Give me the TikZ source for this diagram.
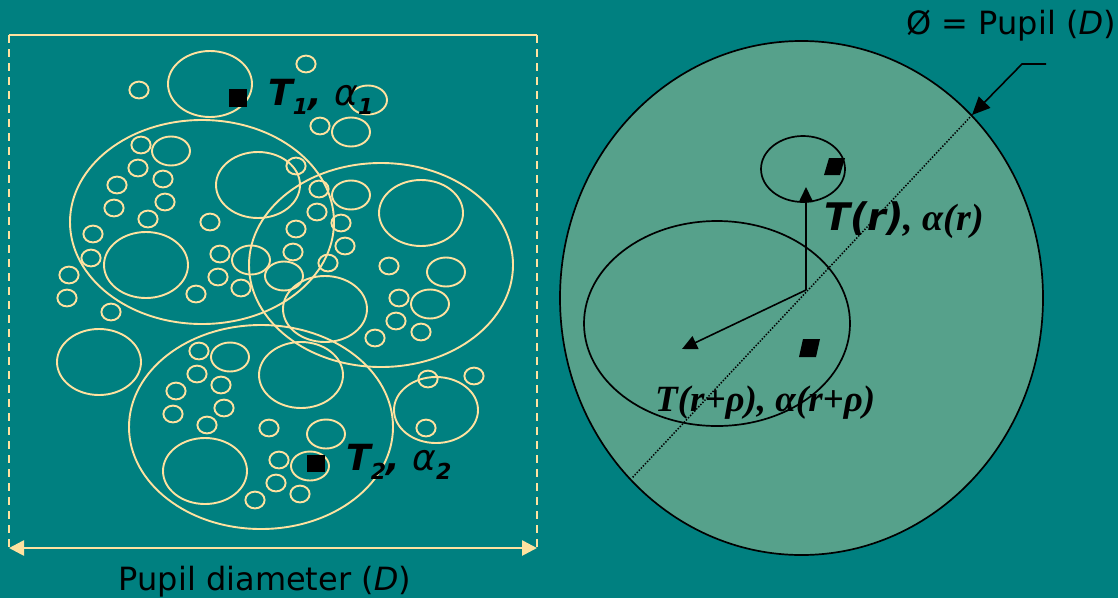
\documentclass[tikz,border=0pt]{standalone}
\usepackage{fontspec}
\setmainfont{DejaVu Sans}
\newfontfamily\timesfont{Liberation Serif}
\usetikzlibrary{arrows.meta}

\definecolor{tealbg}{RGB}{0,128,128}
\definecolor{pupilfill}{RGB}{86,161,139}
\definecolor{cream}{RGB}{255,226,160}

% lowered index for the T and alpha labels
\newcommand{\lsub}[1]{\raisebox{-9pt}{\fontsize{22}{22}\selectfont\bfseries #1}}

\begin{document}
\begin{tikzpicture}[x=1pt, y=-1pt,
            cell/.style={draw=cream, line width=1.9pt},
            rim/.style={draw=black, line width=1.7pt},
            blob/.style={fill=black},
            tip/.style={-{Triangle[length=15pt, width=14pt]}, line width=1.6pt},
            lab/.style={inner sep=0pt, text=black}
        ]
            \useasboundingbox[fill=tealbg] (0,0) rectangle (1118,598);

            % left: pupil with turbulent cells
            \coordinate (dl) at (9,548);
            \coordinate (dr) at (537,548);
            \draw[cream, line width=1.8pt] (9,35) -- (537,35);
            \draw[cream, line width=1.8pt, dash pattern=on 8pt off 6pt] (9,35) -- (9,552);
            \draw[cream, line width=1.8pt, dash pattern=on 8pt off 6pt] (537,35) -- (537,552);
            \draw[cream, line width=2.6pt, {Triangle[length=15pt, width=15pt]}-{Triangle[length=15pt, width=15pt]}] (dl) -- (dr);

            \foreach \x/\y in {202/222, 381/265, 261/427}
                \draw[cell] (\x,\y) ellipse [x radius=132, y radius=102];
            \foreach \x/\y in {210/84, 258/185, 146/265, 421/213, 325/309, 301/375, 205/471, 99/362, 436/410}
                \draw[cell] (\x,\y) ellipse [x radius=42, y radius=33];
            \foreach \x/\y in {368/100, 351/132, 171/151, 351/195, 251/260, 284/276, 446/272, 430/304, 230/357, 326/434, 310/466}
                \draw[cell] (\x,\y) ellipse [x radius=19, y radius=14.5];
            \foreach \x/\y in {139/90, 306/64, 320/126, 141/145, 138/168, 163/179, 117/185, 165/202, 114/208,
                               148/219, 210/222, 296/166, 319/189, 317/212, 341/223, 296/229, 345/246, 293/252,
                               328/263, 220/254, 218/277, 241/288, 196/294, 93/234, 91/258, 69/275, 67/298,
                               111/312, 389/266, 399/298, 396/321, 375/338, 421/332, 199/351, 197/374, 176/391,
                               221/385, 173/414, 224/408, 207/425, 269/428, 279/460, 276/483, 255/500, 300/494,
                               428/379, 474/376, 426/428}
                \draw[cell] (\x,\y) ellipse [x radius=9.6, y radius=8.4];

            \fill[blob] (229,89) rectangle (247,107);
            \fill[blob] (307,455) rectangle (325,472);
            \node[lab, anchor=base west, font=\fontsize{36}{40}\selectfont\bfseries\itshape] (t1lab) at (268,105)
                {T\lsub{1}, {\mdseries α}\lsub{1}};
            \node[lab, anchor=base west, font=\fontsize{36}{40}\selectfont\bfseries\itshape] (t2lab) at (346,470)
                {T\lsub{2}, {\mdseries α}\lsub{2}};
            \node[lab, anchor=base, font=\fontsize{32}{36}\selectfont] (diamlab) at (265,590)
                {Pupil diameter (\textit{D})};

            % right: one pupil, two points at distance rho
            \draw[rim, fill=pupilfill] (801.5,298) ellipse [x radius=241.5, y radius=257];
            \coordinate (rimpt) at (972,115);
            \coordinate (rimlow) at (632,478);
            \draw[black, line width=1.5pt, dash pattern=on 1.4pt off 1.6pt] (rimpt) -- (rimlow);
            \draw[rim] (803,169) ellipse [x radius=42, y radius=33];
            \draw[rim] (717,323.5) ellipse [x radius=133, y radius=102.5];
            \fill[blob] (829,158) -- (845,158) -- (840,175) -- (824,175) -- cycle;
            \fill[blob] (803,339) -- (820,339) -- (816,357) -- (799,357) -- cycle;

            \coordinate (orig) at (806,290);
            \coordinate (rvec) at (806,187);
            \coordinate (rhovec) at (682,349);
            \draw[tip] (orig) -- (rvec);
            \draw[tip] (orig) -- (rhovec);

            \coordinate (lead) at (1046,64);
            \coordinate (bend) at (1022,64);
            \draw[line width=1.6pt, -{Triangle[length=18pt, width=16pt]}] (lead) -- (bend) -- (rimpt);

            \node[lab, anchor=base east, font=\fontsize{32}{36}\selectfont] (pupillab) at (1116,34)
                {Ø = Pupil (\textit{D})};
            \node[lab, anchor=base west, font=\fontsize{38}{42}\selectfont] (trlab) at (824,230)
                {\bfseries\itshape T(r){\timesfont, α(r)}};
            \node[lab, anchor=base west, font=\fontsize{37}{42}\selectfont\timesfont\bfseries\itshape] (trplab) at (655,411)
                {T(r+ρ), α(r+ρ)};
        \end{tikzpicture}
\end{document}
